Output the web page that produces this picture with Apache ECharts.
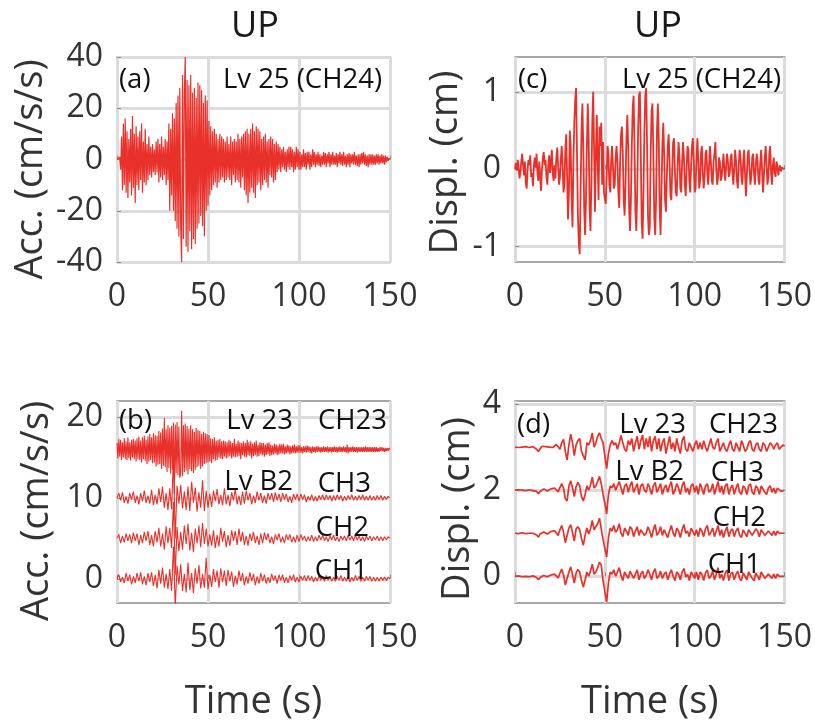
<!DOCTYPE html>
<html><head><meta charset="utf-8">
<script src="https://cdn.jsdelivr.net/npm/echarts@6/dist/echarts.min.js"></script>
<style>html,body{margin:0;padding:0;background:#fff}#c{width:815px;height:722px}</style>
</head><body><div id="c"></div>
<script>
// ---------------- DATA ----------------
const timeMax = 150;
const dtFine = 0.5;     // sample step (s) for dense traces
const dtCoarse = 1;     // sample step (s) for lighter traces
const xTicks = [0, 50, 100, 150];
const yTicksA = [-40, -20, 0, 20, 40];
const yTicksB = [0, 10, 20];
const yTicksC = [-1, 0, 1];
const yTicksD = [0, 2, 4];

// (a) Acceleration, Lv 25 (CH24), cm/s/s, dt = 0.5 s
const accLv25 = [
 0, 0.3, -0.5, 1, -4, 9, -12, 14, -10, 16, -13, 11, -15, 8, -9, 12, -14, 17, -11, 10,
 -17, 13, -10, 9, -12, 11, -8, 14, -13, 7, -9, 12, -10, 6, -8, 9, -6, 5, -7, 6,
 -5, 4, -6, 7, -5, 8, -9, 6, -7, 9, -8, 5, -6, 8, -10, 7, -8, 14, -20, 12,
 -14, 18, -20, 16, -24, 22, -27, 25, -30, 28, -26, -40, 33, -31, 26, 40, -34, 31, -36, 29,
 -28, 33, -35, 26, -31, 28, -33, 24, -27, 30, -25, 29, -22, 27, -26, 22, -30, 25, -20, 23,
 -18, 15, -14, 13, -12, 11, -10, 12, -9, 10, -11, 8, -9, 10, -8, 9, -7, 8, -9, 7,
 -8, 9, -7, 6, -8, 9, -10, 7, -6, 8, -9, 7, -8, 10, -9, 8, -11, 9, -7, 10,
 -12, 11, -14, 12, -17, 10, -13, 12, -11, 14, -13, 11, -15, 13, -10, 12, -9, 11, -12, 8,
 -10, 9, -8, 10, -9, 7, -11, 8, -6, 9, -7, 8, -9, 6, -8, 7, -5, 6, -4, 5,
 -5, 4, -3, 5, -4, 3, -5, 4, -3, 5, -4, 5, -3, 4, -5, 3, -4, 5, -3, 4,
 -4, 3, -4, 2, -3, 4, -3, 2.5, -4, 3, -2, 3, -4, 2, -3, 4, -2, 3, -3, 2,
 -2, 3, -2.5, 2, -3, 1.5, -2, 3, -2, 2.5, -3, 2, -1.5, 3, -3, 2, -2, 3, -2, 1.5,
 -2, 2.5, -3, 2, -1.5, 3, -2, 2, -2.5, 3, -2, 1.5, -3, 2, -2, 2.5, -3, 2, -1.5, 2,
 -2, 3, -2, 1.5, -2.5, 2, -3, 2, -2, 2.5, -1.5, 3, -2, 2, -2.5, 1.5, -3, 2, -2, 2,
 -2, 2, -2, 1.5, -2, 2, -1.5, 2, -2, 1.5, -1.5, 2, -1.5, 1.5, -2, 1.5, -1, 1, -0.5, 0.5,
 0
];

// (c) Displacement, Lv 25 (CH24), cm, dt = 0.5 s
const dispLv25 = [
 0, 0.08, -0.02, 0.12, 0.02, -0.12, -0.05, 0.1, 0.2, 0.05, -0.08, 0.1, -0.18, -0.25, 0.0, 0.12, 0.05, 0.18, -0.1, -0.05,
 -0.22, 0.05, 0.15, 0.02, 0.2, -0.05, -0.15, 0.1, -0.1, -0.28, 0.0, 0.15, 0.22, 0.05, 0.12, -0.1, -0.2, 0.05, 0.18, -0.05,
 0.1, 0.25, -0.05, -0.15, 0.05, -0.12, 0.15, 0.28, 0.05, -0.2, -0.1, 0.12, 0.3, 0.05, -0.3, -0.2, 0.25, 0.45, -0.1, -0.65,
 -0.3, 0.5, 0.3, -0.4, -0.75, 0.1, 0.6, 0.9, 1.05, 0.2, -0.6, -0.95, -1.1, -0.3, 0.5, 0.85, 0.3, -0.5, -0.85, -0.4,
 0.3, 0.85, 0.4, -0.5, -0.8, -0.2, 0.6, 1.0, 0.3, -0.55, 0.2, 0.7, 0.1, -0.4, 0.55, 0.3, 0.6, -0.2, 0.35, -0.3,
 -0.3, -0.45, -0.1, 0.3, 0.2, -0.2, -0.3, 0.1, 0.3, 0.05, -0.25, -0.2, 0.15, 0.3, 0.1, -0.3, -0.5, 0.1, 0.45, 0.55,
 0.2, -0.4, -0.6, -0.2, 0.4, 0.7, 0.3, -0.5, -0.8, -0.4, 0.3, 0.8, 0.95, 0.3, -0.55, -0.8, -0.3, 0.5, 0.95, 1.0,
 0.2, -0.7, -0.9, -0.3, 0.5, 0.95, 1.05, 0.3, -0.6, -0.85, -0.75, 0.2, 0.75, 0.85, 0.2, -0.6, -0.85, -0.4, 0.5, 0.85,
 0.4, -0.5, -0.85, -0.3, 0.3, 0.6, 0.2, -0.4, -0.55, -0.1, 0.3, 0.45, 0.1, -0.35, -0.4, 0.0, 0.35, 0.4, -0.05, -0.3,
 -0.35, 0.05, 0.35, 0.2, -0.25, -0.3, 0.1, 0.35, 0.15, -0.2, -0.35, 0.0, 0.3, 0.25, -0.15, -0.3, 0.05, 0.3, 0.4, 0.1,
 -0.3, -0.25, 0.15, 0.4, 0.1, -0.25, -0.15, 0.2, 0.3, -0.05, -0.25, -0.1, 0.2, 0.25, -0.05, -0.2, 0.05, 0.3, 0.1, -0.15,
 -0.2, 0.1, 0.2, 0.35, 0.0, -0.2, -0.1, 0.15, 0.1, -0.15, -0.1, 0.05, 0.2, 0.0, -0.15, 0.05, 0.2, 0.1, -0.1, -0.05,
 0.15, 0.2, -0.05, -0.2, 0.0, 0.25, 0.1, -0.15, -0.25, 0.05, 0.25, 0.15, -0.1, -0.2, 0.1, 0.25, -0.05, -0.35, -0.1, 0.2,
 0.25, 0.0, -0.2, -0.1, 0.15, 0.2, -0.05, -0.2, 0.05, 0.2, 0.1, -0.15, -0.2, 0.1, 0.25, 0.0, -0.3, -0.1, 0.15, 0.3,
 0.05, -0.2, -0.1, 0.2, 0.3, -0.05, -0.2, 0.05, 0.15, -0.05, -0.1, 0.1, 0.05, -0.08, 0.0, 0.05, -0.03, 0.02, 0.0, 0.0,
 0
];

// (b) Acceleration (cm/s/s), stacked with offsets
const accOffsets = [16, 10, 5, 0];            // CH23, CH3, CH2, CH1
// CH23 (Lv 23), dt = 0.5 s
const accCH23 = [
 0.8, -1.1, 1.3, -0.9, 1.2, -1.3, 0.9, -1.0, 1.4, -1.2, 1.0, -1.3, 1.5, -1.1, 0.9, -1.4, 1.2, -1.0, 1.3, -1.2,
 1.1, -1.5, 1.4, -1.2, 1.6, -1.3, 1.1, -1.6, 1.5, -1.2, 1.7, -1.4, 1.2, -1.8, 1.6, -1.5, 1.9, -1.3, 1.5, -1.7,
 2.0, -1.6, 1.8, -2.1, 1.7, -1.9, 2.3, -1.8, 2.1, -2.4, 2.6, -2.0, 3.9, -2.2, 2.5, -2.8, 3.0, -2.3, 2.7, -3.0,
 2.9, -2.5, 3.3, -5.5, 3.1, -2.9, 3.4, -3.2, 2.8, -3.5, -3.0, 4.8, -3.3, 3.0, -2.8, 3.2, -2.6, 2.9, -3.1, 2.6,
 -2.4, 3.0, -2.7, 2.5, -2.9, 2.2, -2.5, 2.7, -2.2, 2.4, -2.0, 2.3, -2.4, 1.9, -2.1, 2.2, -1.8, 2.0, -1.7, 1.9,
 -1.6, 1.8, -1.5, 1.4, -1.7, 1.3, -1.2, 1.5, -1.4, 1.1, -1.3, 1.2, -1.0, 1.3, -1.1, 1.0, -1.2, 1.1, -0.9, 1.0,
 -1.1, 0.9, -1.0, 1.2, -0.8, 1.0, -1.1, 0.8, -0.9, 1.3, -1.0, 0.7, -0.9, 1.1, -0.8, 0.9, -1.2, 0.8, -0.7, 1.0,
 -0.9, 0.8, -1.0, 1.2, -0.7, 0.9, -0.8, 1.0, -1.1, 0.7, -0.8, 0.9, -0.7, 1.1, -0.9, 0.6, -0.8, 0.9, -0.6, 0.8,
 -0.7, 0.8, -0.9, 0.6, -0.7, 0.8, -0.6, 0.9, -0.8, 0.6, -0.7, 0.5, -0.6, 0.7, -0.5, 0.6, -0.7, 0.5, -0.6, 0.7,
 -0.5, 0.6, -0.5, 0.7, -0.6, 0.4, -0.5, 0.6, -0.4, 0.5, -0.6, 0.4, -0.5, 0.5, -0.4, 0.6, -0.5, 0.4, -0.4, 0.5,
 -0.4, 0.5, -0.4, 0.3, -0.5, 0.4, -0.3, 0.4, -0.4, 0.5, -0.3, 0.4, -0.4, 0.3, -0.5, 0.4, -0.3, 0.3, -0.4, 0.4,
 -0.3, 0.4, -0.3, 0.3, -0.4, 0.3, -0.3, 0.4, -0.3, 0.3, -0.3, 0.4, -0.4, 0.3, -0.3, 0.3, -0.4, 0.3, -0.3, 0.4,
 -0.3, 0.3, -0.4, 0.3, -0.3, 0.4, -0.3, 0.3, -0.3, 0.4, -0.3, 0.3, -0.4, 0.6, -0.5, 0.3, -0.3, 0.3, -0.3, 0.4,
 -0.3, 0.3, -0.3, 0.3, -0.4, 0.3, -0.3, 0.3, -0.3, 0.3, -0.3, 0.3, -0.3, 0.4, -0.3, 0.3, -0.3, 0.3, -0.3, 0.3,
 -0.3, 0.3, -0.3, 0.3, -0.3, 0.3, -0.3, 0.2, -0.3, 0.3, -0.2, 0.3, -0.2, 0.2, -0.3, 0.2, -0.2, 0.2, -0.2, 0.2,
 0
];
// CH3 (Lv B2), dt = 1 s
const accCH3 = [
 0, 0.6, -0.3, 0.7, -0.6, 0.2, -0.7, 0.6, -0.2, 0.8,
 -0.6, 0.3, -0.8, 0.6, -0.4, 0.9, -0.6, 0.3, -0.7, 1.0,
 -0.9, 0.4, -0.8, 1.2, -0.5, 1.4, -1.2, 0.6, -1.5, 1.2,
 -1.4, 5.0, -5.0, 1.5, -0.7, 1.6, -1.3, 0.8, -1.5, 1.4,
 -1.6, 2.0, -0.6, 1.3, -1.7, 0.7, -1.2, 2.2, -1.6, 0.9,
 -1.2, 0.5, -1.1, 0.9, -0.4, 1.1, -0.8, 0.4, -0.9, 1.2,
 -0.8, 0.4, -1.0, 0.7, -0.3, 1.1, -0.8, 0.3, -0.9, 0.8,
 -0.7, 0.9, -0.3, 0.6, -0.8, 0.3, -0.6, 0.8, -0.3, 0.6,
 -0.6, 0.3, -0.7, 0.6, -0.2, 0.6, -0.5, 0.7, -0.3, 0.5,
 -0.5, 0.6, -0.2, 0.5, -0.5, 0.2, -0.6, 0.5, -0.2, 0.5,
 -0.4, 0.5, -0.2, 0.4, -0.5, 0.2, -0.3, 0.4, -0.4, 0.2,
 -0.4, 0.3, -0.2, 0.4, -0.3, 0.4, -0.2, 0.3, -0.4, 0.3,
 -0.3, 0.4, -0.2, 0.3, -0.4, 0.2, -0.3, 0.3, -0.2, 0.4,
 -0.3, 0.2, -0.3, 0.3, -0.2, 0.4, -0.3, 0.2, -0.3, 0.3,
 -0.3, 0.2, -0.3, 0.3, -0.2, 0.3, -0.3, 0.2, -0.2, 0.2,
 0
];
// CH2, dt = 1 s
const accCH2 = [
 0, 0.5, -0.6, 0.3, -0.5, 0.6, -0.3, 0.5, -0.6, 0.7,
 -0.3, 0.6, -0.8, 0.4, -0.6, 0.8, -0.3, 0.9, -0.8, 0.4,
 -1.0, 0.9, -0.5, 1.3, -1.0, 0.6, -1.4, 1.5, -0.6, 1.3,
 -1.2, 4.5, -4.5, 1.4, -1.6, 0.8, -1.4, 1.6, -0.7, 1.8,
 -1.5, 0.7, -1.7, 1.2, -0.6, 1.6, -1.1, 1.9, -0.7, 1.2,
 -1.0, 0.5, -0.9, 1.0, -1.2, 0.4, -1.0, 1.3, -0.4, 0.9,
 -1.1, 0.4, -0.9, 1.0, -0.3, 0.9, -0.8, 1.2, -0.4, 0.8,
 -0.8, 0.3, -0.9, 0.6, -0.3, 0.8, -0.6, 0.3, -0.8, 0.6,
 -0.6, 0.7, -0.2, 0.6, -0.6, 0.2, -0.7, 0.5, -0.2, 0.6,
 -0.5, 0.2, -0.6, 0.5, -0.2, 0.5, -0.5, 0.2, -0.5, 0.4,
 -0.4, 0.5, -0.2, 0.3, -0.4, 0.2, -0.3, 0.4, -0.4, 0.2,
 -0.3, 0.4, -0.2, 0.4, -0.3, 0.2, -0.4, 0.3, -0.2, 0.4,
 -0.3, 0.2, -0.4, 0.3, -0.2, 0.3, -0.3, 0.4, -0.2, 0.3,
 -0.3, 0.4, -0.2, 0.3, -0.3, 0.2, -0.4, 0.3, -0.2, 0.3,
 -0.3, 0.2, -0.2, 0.3, -0.3, 0.2, -0.3, 0.2, -0.2, 0.2,
 0
];
// CH1, dt = 1 s
const accCH1 = [
 0, 0.5, -0.4, 0.2, -0.5, 0.7, -0.3, 0.5, -0.7, 0.3,
 -0.5, 0.7, -0.3, 0.8, -0.7, 0.3, -0.8, 0.7, -0.4, 0.8,
 -0.9, 0.5, -1.2, 1.1, -0.6, 1.4, -1.1, 0.6, -1.3, 1.2,
 -1.5, 4.0, -3.5, 1.6, -0.7, 1.8, -1.5, 0.6, -1.7, 2.0,
 -1.4, 0.7, -1.8, 1.3, -0.6, 1.7, -1.2, 0.6, -1.1, 2.6,
 -1.3, 0.5, -1.0, 1.2, -0.4, 1.0, -1.1, 1.3, -0.4, 1.0,
 -0.9, 1.1, -0.3, 0.9, -1.0, 0.4, -0.7, 1.0, -0.3, 0.7,
 -0.8, 0.3, -0.6, 0.8, -0.3, 0.6, -0.8, 0.3, -0.6, 0.7,
 -0.3, 0.5, -0.6, 0.2, -0.5, 0.6, -0.2, 0.4, -0.6, 0.5,
 -0.2, 0.5, -0.5, 0.2, -0.5, 0.4, -0.2, 0.5, -0.4, 0.2,
 -0.4, 0.3, -0.2, 0.4, -0.3, 0.4, -0.2, 0.3, -0.4, 0.2,
 -0.3, 0.4, -0.2, 0.3, -0.3, 0.4, -0.2, 0.3, -0.3, 0.2,
 -0.3, 0.3, -0.2, 0.4, -0.3, 0.2, -0.3, 0.3, -0.4, 0.2,
 -0.3, 0.4, -0.2, 0.3, -0.3, 0.2, -0.3, 0.3, -0.2, 0.3,
 -0.3, 0.2, -0.3, 0.2, -0.3, 0.2, -0.2, 0.2, -0.2, 0.2,
 0
];

// (d) Displacement (cm), stacked with offsets, dt = 1 s
const dispOffsets = [3, 2, 1, 0];             // CH23, CH3, CH2, CH1
const dispCH23 = [
 0, 0.01, -0.01, 0.02, 0.0, -0.02, 0.01, 0.02, -0.01, 0.0,
 0.01, -0.02, -0.05, -0.1, -0.04, 0.02, 0.03, 0.01, -0.02, 0.0,
 0.02, -0.01, 0.03, 0.06, 0.02, -0.05, 0.1, 0.18, -0.1, -0.3,
 0.05, 0.3, 0.1, -0.2, 0.05, 0.15, 0.2, -0.1, -0.2, -0.3,
 0.1, 0.05, 0.15, 0.33, 0.0, 0.1, 0.25, 0.33, 0.2, 0.1,
 -0.2, -0.5, -0.15, 0.05, 0.15, 0.05, 0.1, -0.05, 0.1, 0.27,
 0.1, -0.05, -0.1, 0.15, 0.05, 0.2, -0.1, 0.1, 0.25, -0.05,
 0.15, 0.28, -0.05, 0.2, 0.0, 0.25, -0.1, 0.15, 0.25, -0.05,
 0.2, -0.1, 0.1, 0.2, -0.15, 0.05, 0.25, -0.05, 0.1, -0.1,
 0.2, 0.0, -0.15, 0.15, 0.25, -0.05, -0.1, 0.1, 0.0, -0.1,
 0.05, 0.15, -0.05, 0.1, -0.05, 0.15, 0.0, -0.1, 0.05, 0.2,
 0.0, -0.05, 0.1, 0.2, -0.1, 0.0, 0.1, -0.05, -0.1, 0.05,
 0.15, -0.05, -0.1, 0.1, 0.0, -0.1, 0.15, 0.05, -0.1, -0.05,
 0.1, 0.15, -0.05, -0.1, 0.05, 0.1, -0.05, -0.1, 0.1, 0.05,
 -0.1, 0.0, 0.1, 0.05, -0.05, 0.05, 0.1, -0.05, 0.0, 0.05,
 0.02
];
const dispCH3 = [
 0, 0.0, 0.01, -0.01, 0.0, 0.01, -0.01, 0.0, 0.01, 0.0,
 -0.01, 0.0, -0.03, -0.08, -0.03, 0.01, 0.03, 0.0, -0.02, 0.01,
 0.03, 0.0, 0.05, 0.02, -0.04, 0.06, 0.15, 0.05, -0.2, -0.25,
 0.1, 0.22, 0.05, -0.15, 0.08, 0.18, 0.1, -0.15, -0.25, -0.1,
 0.1, 0.0, 0.12, 0.3, 0.05, 0.1, 0.2, 0.32, 0.15, -0.1,
 -0.3, -0.55, -0.1, 0.1, 0.05, 0.15, 0.0, 0.1, 0.2, 0.05,
 -0.1, 0.1, 0.15, -0.05, 0.1, 0.2, -0.05, 0.05, 0.15, -0.1,
 0.1, 0.15, 0.0, -0.05, 0.15, 0.05, -0.1, 0.1, 0.18, -0.05,
 0.05, 0.15, -0.1, 0.05, 0.12, -0.05, 0.1, 0.2, -0.1, 0.0,
 0.15, 0.05, -0.1, 0.1, 0.2, -0.05, 0.05, -0.1, 0.1, 0.15,
 -0.05, 0.1, -0.1, 0.15, 0.05, -0.1, 0.1, 0.15, -0.05, 0.0,
 0.15, -0.1, 0.05, 0.2, -0.05, 0.1, -0.1, 0.1, 0.15, -0.1,
 0.05, 0.12, -0.1, 0.05, 0.15, -0.05, -0.1, 0.1, 0.05, -0.1,
 0.1, 0.15, -0.05, -0.1, 0.1, 0.05, -0.1, 0.1, 0.12, -0.05,
 -0.1, 0.05, 0.1, -0.05, 0.05, -0.08, 0.05, 0.02, -0.03, 0.0,
 0.0
];
const dispCH2 = [
 0, 0.01, -0.01, 0.0, 0.01, 0.0, -0.01, 0.01, 0.0, 0.01,
 0.0, -0.02, -0.04, -0.09, -0.02, 0.02, 0.03, 0.0, -0.02, 0.02,
 0.04, 0.0, 0.06, 0.03, -0.05, 0.08, 0.18, 0.02, -0.22, -0.2,
 0.12, 0.2, 0.02, -0.18, 0.1, 0.15, 0.08, -0.12, -0.28, -0.05,
 0.12, -0.02, 0.1, 0.3, 0.08, 0.12, 0.22, 0.35, 0.1, -0.15,
 -0.35, -0.55, -0.1, 0.12, 0.05, 0.18, 0.02, 0.08, 0.22, 0.0,
 -0.08, 0.12, 0.05, -0.05, 0.15, 0.1, -0.08, 0.05, 0.15, -0.05,
 0.08, 0.12, -0.05, 0.0, 0.15, 0.05, -0.1, 0.08, 0.2, -0.05,
 0.02, 0.15, -0.05, 0.08, 0.1, -0.1, 0.05, 0.18, 0.0, -0.08,
 0.12, 0.05, -0.1, 0.08, 0.2, 0.0, 0.05, -0.08, 0.12, 0.1,
 -0.05, 0.08, -0.08, 0.12, 0.05, -0.08, 0.1, 0.18, -0.05, 0.02,
 0.12, -0.08, 0.05, 0.18, -0.05, 0.08, -0.1, 0.05, 0.15, -0.08,
 0.05, 0.1, -0.08, 0.05, 0.12, -0.05, -0.1, 0.08, 0.1, -0.08,
 0.08, 0.12, -0.05, -0.08, 0.1, 0.05, -0.08, 0.08, 0.1, -0.05,
 -0.08, 0.05, 0.08, -0.05, 0.05, -0.05, 0.05, 0.0, -0.02, 0.0,
 0.0
];
const dispCH1 = [
 0, 0.0, 0.01, 0.0, -0.01, 0.01, 0.0, 0.01, -0.01, 0.0,
 0.01, -0.01, -0.03, -0.08, -0.03, 0.01, 0.02, 0.01, -0.01, 0.02,
 0.03, -0.01, 0.05, 0.04, -0.04, 0.07, 0.17, 0.03, -0.2, -0.22,
 0.1, 0.22, 0.04, -0.16, 0.08, 0.16, 0.1, -0.1, -0.25, -0.08,
 0.1, 0.0, 0.12, 0.28, 0.05, 0.1, 0.2, 0.33, 0.26, -0.1,
 -0.35, -0.6, -0.15, 0.1, 0.05, 0.15, 0.0, 0.1, 0.2, 0.02,
 -0.1, 0.1, 0.08, -0.05, 0.12, 0.1, -0.05, 0.05, 0.15, -0.08,
 0.05, 0.12, -0.05, 0.02, 0.15, 0.05, -0.08, 0.1, 0.18, -0.05,
 0.0, 0.12, -0.05, 0.05, 0.1, -0.08, 0.05, 0.15, 0.0, -0.1,
 0.1, 0.05, -0.08, 0.1, 0.18, -0.02, 0.05, -0.1, 0.1, 0.08,
 -0.05, 0.1, -0.08, 0.1, 0.05, -0.1, 0.08, 0.15, -0.05, 0.0,
 0.12, -0.08, 0.05, 0.2, -0.05, 0.05, -0.1, 0.08, 0.15, -0.1,
 0.05, 0.1, -0.08, 0.05, 0.12, -0.05, -0.1, 0.08, 0.08, -0.08,
 0.1, 0.12, -0.05, -0.1, 0.08, 0.05, -0.08, 0.1, 0.1, -0.05,
 -0.08, 0.05, 0.08, -0.05, 0.05, -0.05, 0.05, 0.0, -0.02, 0.0,
 0.0
];

// ---------------- CHART ----------------
const FONT = "'Open Sans', 'Noto Sans', sans-serif";
const RED = '#e8312a';
const AXIS_TXT = '#333333';
const GRID_LINE = '#dcdcdc';
const BORDER = '#8c8c8c';
const TICK_FS = 32, NAME_FS = 38;

function toXY(vals, dt, offset) {
  return vals.map((v, i) => [i * dt, v + offset]);
}

const grids = [
  {left: 117, top: 57, width: 273, height: 205},   // (a)
  {left: 117, top: 401, width: 273, height: 210},  // (b)
  {left: 515, top: 57, width: 274, height: 205},   // (c)
  {left: 515, top: 401, width: 274, height: 210}   // (d)
].map(g => Object.assign(g, {show: true, borderColor: BORDER, borderWidth: 1.5, backgroundColor: '#fff'}));

function xAx(gi, withName) {
  return {
    gridIndex: gi, type: 'value', min: 0, max: timeMax, interval: 50,
    axisLine: {show: false},
    axisTick: {inside: true, length: 4, lineStyle: {color: BORDER}},
    axisLabel: {fontSize: TICK_FS, color: AXIS_TXT, fontFamily: FONT, margin: 19},
    splitLine: {show: true, lineStyle: {color: GRID_LINE, width: 3}},
    name: withName ? 'Time (s)' : '', nameLocation: 'middle', nameGap: 80,
    nameTextStyle: {fontSize: NAME_FS, color: AXIS_TXT, fontFamily: FONT}
  };
}
function yAx(gi, min, max, ticks, name, gap, shift, interval) {
  const ax = {
    gridIndex: gi, type: 'value', min: min, max: max,
    axisLine: {show: false},
    axisTick: {inside: true, length: 4, lineStyle: {color: BORDER}},
    axisLabel: {fontSize: TICK_FS, color: AXIS_TXT, fontFamily: FONT, margin: 14},
    splitLine: {show: true, lineStyle: {color: GRID_LINE, width: 3}},
    name: name, nameLocation: 'middle', nameGap: gap, nameRotate: 90,
    nameTextStyle: {fontSize: NAME_FS, color: AXIS_TXT, fontFamily: FONT, padding: [0, shift, 0, 0]}
  };
  if (interval) { ax.interval = interval; }
  else { ax.axisLabel.customValues = ticks; ax.axisTick.customValues = ticks; }
  return ax;
}

function line(xi, vals, dt, offset, width) {
  return {
    type: 'line', xAxisIndex: xi, yAxisIndex: xi, data: toXY(vals, dt, offset),
    showSymbol: false, symbol: 'none', sampling: false, animation: false,
    lineStyle: {color: RED, width: width}, itemStyle: {color: RED}, clip: true, z: 3
  };
}

const series = [
  line(0, accLv25, dtFine, 0, 1.2),
  line(1, accCH23, dtFine, accOffsets[0], 1.1),
  line(1, accCH3, dtCoarse, accOffsets[1], 1.1),
  line(1, accCH2, dtCoarse, accOffsets[2], 1.1),
  line(1, accCH1, dtCoarse, accOffsets[3], 1.1),
  line(2, dispLv25, dtFine, 0, 1.8),
  line(3, dispCH23, dtCoarse, dispOffsets[0], 1.7),
  line(3, dispCH3, dtCoarse, dispOffsets[1], 1.7),
  line(3, dispCH2, dtCoarse, dispOffsets[2], 1.7),
  line(3, dispCH1, dtCoarse, dispOffsets[3], 1.7)
];

function txt(t, x, y, align, size, color) {
  return {type: 'text', x: x, y: y, z: 100, silent: true,
    style: {text: t, fontSize: size, fontFamily: FONT, fill: color,
      align: align, verticalAlign: 'middle', textAlign: align, textVerticalAlign: 'middle'}};
}
const ANN = '#111';
const AFS = 27.5;
const graphics = [
  txt('UP', 255, 27, 'center', 36, '#1a1a1a'),
  txt('UP', 658, 27, 'center', 36, '#1a1a1a'),
  txt('(a)', 119, 80, 'left', AFS, ANN),
  txt('Lv 25 (CH24)', 382, 80, 'right', AFS, ANN),
  txt('(c)', 518, 80, 'left', AFS, ANN),
  txt('Lv 25 (CH24)', 781, 80, 'right', AFS, ANN),
  txt('(b)', 119, 421, 'left', AFS, ANN),
  txt('Lv 23', 293, 421, 'right', AFS, ANN),
  txt('CH23', 387, 421, 'right', AFS, ANN),
  txt('Lv B2', 293, 482, 'right', AFS, ANN),
  txt('CH3', 371, 484, 'right', AFS, ANN),
  txt('CH2', 369, 528, 'right', AFS, ANN),
  txt('CH1', 368, 571, 'right', AFS, ANN),
  txt('(d)', 517, 425, 'left', AFS, ANN),
  txt('Lv 23', 686, 425, 'right', AFS, ANN),
  txt('CH23', 778, 425, 'right', AFS, ANN),
  txt('Lv B2', 684, 472, 'right', AFS, ANN),
  txt('CH3', 764, 473, 'right', AFS, ANN),
  txt('CH2', 766, 518, 'right', AFS, ANN),
  txt('CH1', 761, 565, 'right', AFS, ANN)
];

const chart = echarts.init(document.getElementById('c'), null, {renderer: 'canvas'});
chart.setOption({
  animation: false,
  backgroundColor: '#fff',
  grid: grids,
  xAxis: [xAx(0, false), xAx(1, true), xAx(2, false), xAx(3, true)],
  yAxis: [
    yAx(0, yTicksA[0], yTicksA[yTicksA.length - 1], yTicksA, 'Acc. (cm/s/s)', 67, 20, 20),
    yAx(1, -3, 22, yTicksB, 'Acc. (cm/s/s)', 61, 18),
    yAx(2, -1.2, 1.45, yTicksC, 'Displ. (cm)', 50, 6),
    yAx(3, -0.62, 4.07, yTicksD, 'Displ. (cm)', 38, 14)
  ],
  series: series,
  graphic: graphics
});
</script>
</body></html>
